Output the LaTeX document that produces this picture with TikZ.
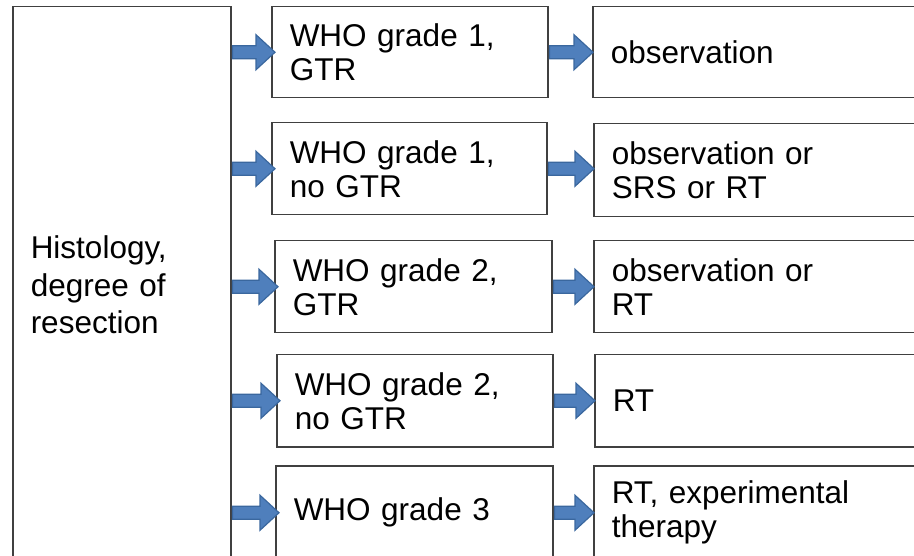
\documentclass[tikz,border=0pt]{standalone}
\usepackage{fontspec}
\setmainfont{Liberation Sans}
\usetikzlibrary{calc}
\definecolor{boxline}{HTML}{404040}
\definecolor{arrowfill}{HTML}{4F7FBC}
\definecolor{arrowline}{HTML}{3A679E}
\tikzset{
  box/.style={draw=boxline, line width=1.5pt, rectangle, anchor=north west,
    inner xsep=18pt, inner ysep=0pt, align=left, minimum height=#1,
    font=\fontsize{31.5}{34}\selectfont},
  blockarrow/.style={fill=arrowfill, draw=arrowline, line width=1.2pt, line join=miter,
    to path={let \p1=(\tikztostart), \p2=(\tikztotarget) in
      (\x1,\y1+6.5pt) -- (\x2-19pt,\y1+6.5pt) -- (\x2-19pt,\y1+17.5pt) -- (\x2,\y1)
      -- (\x2-19pt,\y1-17.5pt) -- (\x2-19pt,\y1-6.5pt) -- (\x1,\y1-6.5pt) -- cycle}}
}
\begin{document}
\begin{tikzpicture}[x=1pt,y=-1pt]
\useasboundingbox (0,0) rectangle (914,556);
\clip (0,0) rectangle (914,556);
\node[box=556pt, text width=182pt, font=\fontsize{31.5}{37.5}\selectfont] (L) at (12,6) {Histology,\\degree of\\resection};
\node[box=91pt, text width=240pt] (M1) at (271,6) {WHO grade 1,\\GTR};
\node[box=92pt, text width=239pt] (M2) at (271,122) {WHO grade 1,\\no GTR};
\node[box=92pt, text width=241pt] (M3) at (274,240) {WHO grade 2,\\GTR};
\node[box=92pt, text width=240pt] (M4) at (276,354) {WHO grade 2,\\no GTR};
\node[box=94pt, text width=241pt] (M5) at (275,465) {WHO grade 3};
\node[box=91pt, text width=294pt] (R1) at (592,6) {observation};
\node[box=93pt, text width=294pt] (R2) at (593,123) {observation or\\SRS or RT};
\node[box=92pt, text width=294pt] (R3) at (593,240) {observation or\\RT};
\node[box=92pt, text width=294pt] (R4) at (594,354) {RT};
\node[box=94pt, text width=294pt] (R5) at (593,465) {RT, experimental\\therapy};
\foreach \m in {M1,M2,M3,M4,M5}{
  \draw[blockarrow] ([xshift=1pt]L.east |- \m.west) to ([xshift=4pt]\m.west);
}
\foreach \m/\r in {M1/R1,M2/R2,M3/R3,M4/R4,M5/R5}{
  \draw[blockarrow] ([xshift=1pt]\m.east) to ([xshift=1pt]\m.east -| \r.west);
}
\end{tikzpicture}
\end{document}
